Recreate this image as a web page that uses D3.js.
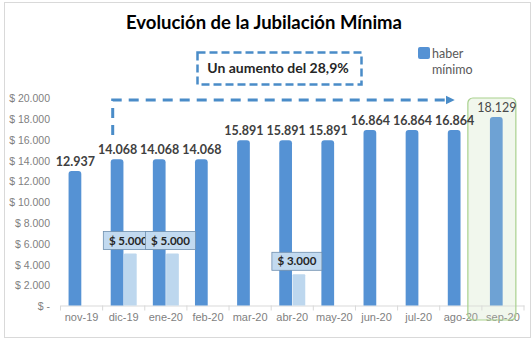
<!DOCTYPE html>
<html>
<head>
<meta charset="utf-8">
<script src="https://cdn.jsdelivr.net/npm/d3@7"></script>
<style>
  html, body { margin: 0; padding: 0; background: #fff; }
  svg { display: block; font-family: Lato, "Open Sans", sans-serif; }
</style>
</head>
<body>
<svg id="chart" width="532" height="340"></svg>
<script>
const categories = ["nov-19","dic-19","ene-20","feb-20","mar-20","abr-20","may-20","jun-20","jul-20","ago-20","sep-20"];
const haberMinimo = [12937,14068,14068,14068,15891,15891,15891,16864,16864,16864,18129];
const bono = [null,5000,5000,null,null,3000,null,null,null,null,null];
const yTicks = [0,2000,4000,6000,8000,10000,12000,14000,16000,18000,20000];
const titleText = "Evolución de la Jubilación Mínima";
const annotationText = "Un aumento del 28,9%";
const legendLabel = ["haber", "mínimo"];

const svg = d3.select("#chart");
const fmt = v => d3.format(",")(v).replace(/,/g, ".");

// chart frame
svg.append("rect").attr("x", 4.5).attr("y", 2.5).attr("width", 526).attr("height", 335)
  .attr("fill", "#fff").attr("stroke", "#d9d9d9");

const x = d3.scaleBand().domain(categories).range([60.5, 524]).padding(0);
const series = ["haber", "bono"];
const x1 = d3.scaleBand().domain(series).range([0, 26]).paddingInner(0.04);
const groupOffset = x.bandwidth() / 2 - 13;
const y = d3.scaleLinear().domain([0, 20000]).range([305.5, 97.5]);
const lastC = categories[categories.length - 1];

// highlight box background tint (behind bars)
svg.append("rect")
  .attr("x", x(lastC) - 14).attr("y", 98).attr("width", 48).attr("height", 222)
  .attr("rx", 5).attr("fill", "#e2efda").attr("fill-opacity", 0.35);

// y axis
const yAxis = d3.axisLeft(y).tickValues(yTicks).tickSize(0).tickPadding(0)
  .tickFormat(v => v === 0 ? "$ -" : "$ " + fmt(v));
const gy = svg.append("g").attr("transform", "translate(50,0)").call(yAxis);
gy.select(".domain").remove();
gy.selectAll("text").attr("fill", "#7f7f7f").attr("font-size", 10.5).attr("dy", "0.4em");

// x axis
const xAxis = d3.axisBottom(x).tickSize(0).tickPadding(8);
const gx = svg.append("g").attr("transform", "translate(0,305.5)").call(xAxis);
gx.select(".domain").attr("stroke", "#d9d9d9");
gx.selectAll("text").attr("fill", "#7f7f7f").attr("font-size", 11);
gx.selectAll(".bound").data(categories.concat(["_end"])).enter().append("line")
  .attr("x1", (d, i) => 60.5 + i * x.bandwidth()).attr("x2", (d, i) => 60.5 + i * x.bandwidth())
  .attr("y1", 0).attr("y2", 5).attr("stroke", "#d9d9d9");

function topRounded(x0, y0, w, h, r) {
  r = Math.min(r, w / 2, h);
  return `M${x0},${y0 + h}V${y0 + r}Q${x0},${y0} ${x0 + r},${y0}H${x0 + w - r}Q${x0 + w},${y0} ${x0 + w},${y0 + r}V${y0 + h}Z`;
}

// main bars
const mainData = categories.map((c, i) => ({ c, v: haberMinimo[i], i }));
svg.append("g").selectAll("path").data(mainData).enter().append("path")
  .attr("d", d => topRounded(x(d.c) + groupOffset + x1("haber"), y(d.v), x1.bandwidth(), y(0) - y(d.v), 3))
  .attr("fill", "#5592d4");

// bono bars
const bonoData = categories.map((c, i) => ({ c, v: bono[i], i })).filter(d => d.v != null);
svg.append("g").selectAll("path").data(bonoData).enter().append("path")
  .attr("d", d => topRounded(x(d.c) + groupOffset + x1("bono"), y(d.v), x1.bandwidth(), y(0) - y(d.v), 1))
  .attr("fill", "#bdd7ee");

// highlight box overlay on last category
svg.append("rect")
  .attr("x", x(lastC) - 14).attr("y", 98).attr("width", 48).attr("height", 222)
  .attr("rx", 5)
  .attr("fill", "#e2efda").attr("fill-opacity", 0.18)
  .attr("stroke", "#a9d18e").attr("stroke-width", 1.2);

// main labels
svg.append("g").selectAll("text").data(mainData).enter().append("text")
  .attr("x", d => x(d.c) + groupOffset + x1("haber") + x1.bandwidth() / 2 + 0.5)
  .attr("y", d => y(d.v) - 5)
  .attr("text-anchor", "middle")
  .attr("font-size", 12.5)
  .attr("font-weight", d => d.i === categories.length - 1 ? "normal" : "bold")
  .attr("fill", d => d.i === categories.length - 1 ? "#4a4a4a" : "#404040")
  .text(d => fmt(d.v));

// bono labels (boxes)
const bl = svg.append("g").selectAll("g").data(bonoData).enter().append("g")
  .attr("transform", d => `translate(${x(d.c) + groupOffset + x1("bono") + x1.bandwidth() / 2 - 2},${y(d.v) - 4})`);
bl.append("rect").attr("x", -25).attr("y", -18).attr("width", 50).attr("height", 18)
  .attr("fill", "#c2daf0").attr("stroke", "#6f8fae").attr("stroke-width", 0.8);
bl.append("text").attr("x", 0).attr("y", -5).attr("text-anchor", "middle")
  .attr("font-size", 11.5).attr("font-weight", "bold").attr("fill", "#262626")
  .text(d => "$ " + fmt(d.v));

// dashed arrow
const arrowColor = "#4a8cc8";
svg.append("defs").append("marker").attr("id", "arr").attr("viewBox", "0 0 10 10")
  .attr("refX", 0).attr("refY", 5).attr("markerWidth", 3).attr("markerHeight", 3.2)
  .attr("orient", "auto").attr("markerUnits", "strokeWidth")
  .append("path").attr("d", "M0,0L10,5L0,10Z").attr("fill", arrowColor);
const xStart = x(categories[1]) + groupOffset + 2;
svg.append("path")
  .attr("d", `M${xStart},135V100H${x(categories[9]) + 6}`)
  .attr("fill", "none").attr("stroke", arrowColor).attr("stroke-width", 3)
  .attr("stroke-dasharray", "10,7").attr("marker-end", "url(#arr)");

// annotation box
svg.append("rect").attr("x", 197.5).attr("y", 52.5).attr("width", 164).attr("height", 32)
  .attr("fill", "#fff").attr("stroke", arrowColor).attr("stroke-width", 2.5)
  .attr("stroke-dasharray", "8,4");
svg.append("text").attr("x", 278).attr("y", 73).attr("text-anchor", "middle")
  .attr("font-size", 14).attr("font-weight", "bold").attr("fill", "#262626")
  .text(annotationText);

// title
svg.append("text").attr("x", 264).attr("y", 29).attr("text-anchor", "middle")
  .attr("font-size", 18.5).attr("font-weight", "bold").attr("fill", "#000")
  .text(titleText);

// legend
svg.append("rect").attr("x", 418).attr("y", 47).attr("width", 12).attr("height", 12).attr("rx", 2)
  .attr("fill", "#5592d4");
svg.append("text").attr("x", 432).attr("y", 58).attr("font-size", 12.5).attr("fill", "#595959").text(legendLabel[0]);
svg.append("text").attr("x", 432).attr("y", 74).attr("font-size", 12.5).attr("fill", "#595959").text(legendLabel[1]);
</script>
</body>
</html>
